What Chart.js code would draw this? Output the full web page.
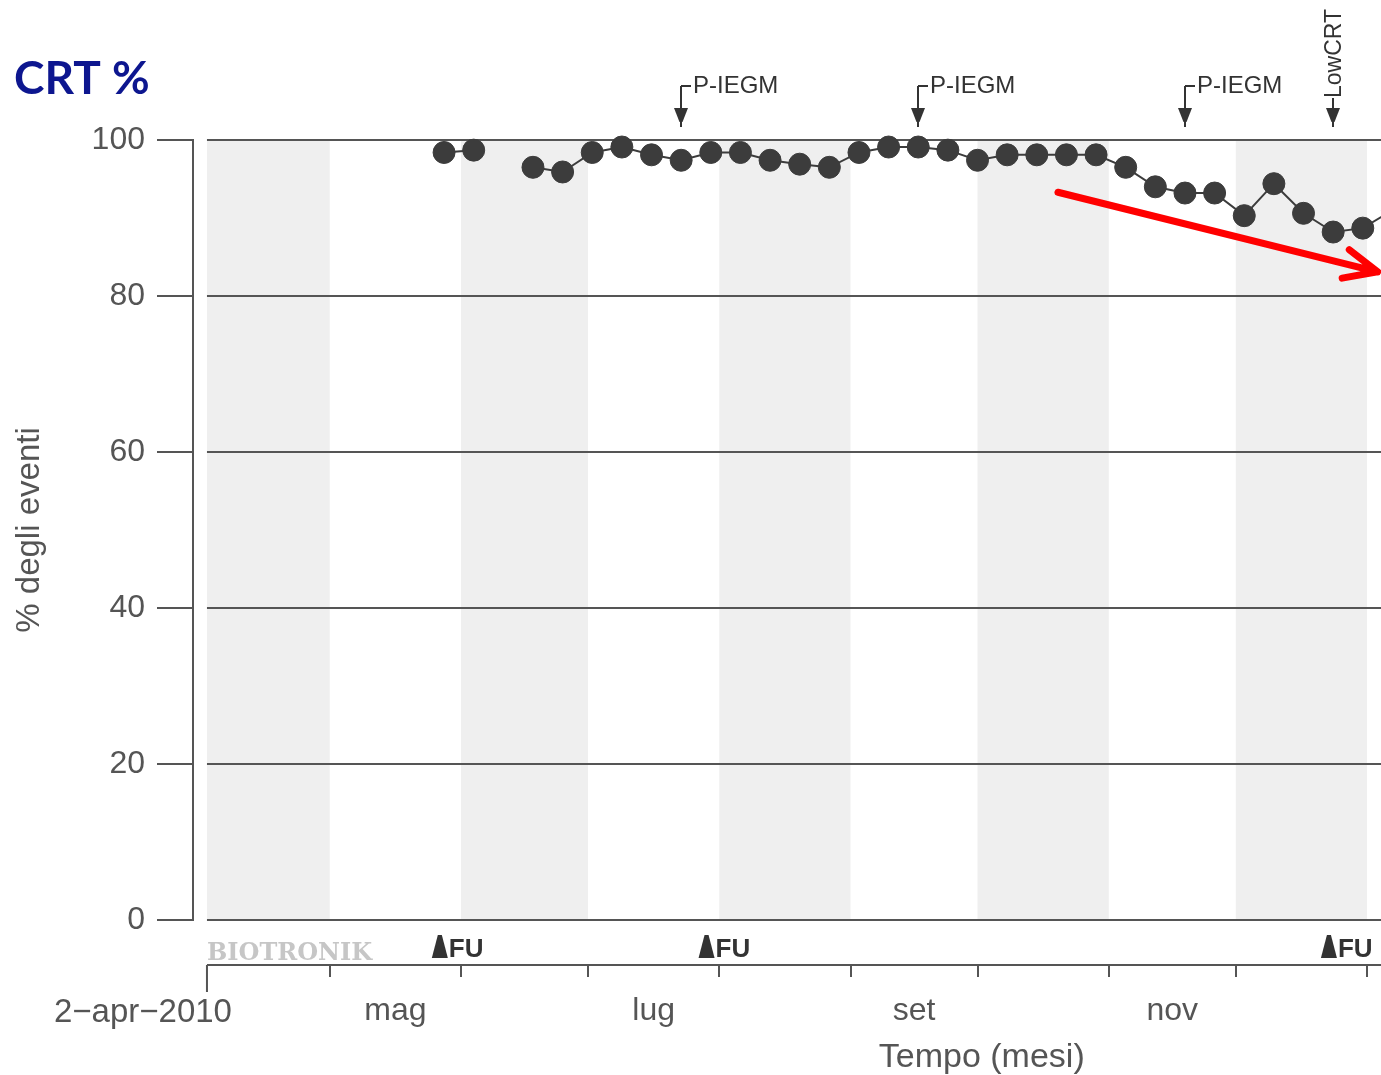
<!DOCTYPE html>
<html>
<head>
<meta charset="utf-8">
<script src="https://cdn.jsdelivr.net/npm/chart.js@4.4.1/dist/chart.umd.min.js"></script>
<style>
html, body { margin: 0; padding: 0; background: #fff; }
canvas { display: block; }
</style>
</head>
<body>
<canvas id="myChart" width="1381" height="1075"></canvas>
<script>
const startDate = '2010-04-02'
const xRange = [-3.3, 277.3]   // days from startDate shown on the x axis

const dates = ['2010-05-28', '2010-06-04', '2010-06-11', '2010-06-18', '2010-06-25', '2010-07-02',
    '2010-07-09', '2010-07-16', '2010-07-23', '2010-07-30', '2010-08-06', '2010-08-13', '2010-08-20',
    '2010-08-27', '2010-09-03', '2010-09-10', '2010-09-17', '2010-09-24', '2010-10-01', '2010-10-08',
    '2010-10-15', '2010-10-22', '2010-10-29', '2010-11-05', '2010-11-12', '2010-11-19', '2010-11-26',
    '2010-12-03', '2010-12-10', '2010-12-17', '2010-12-24', '2010-12-31', '2011-01-07']
const crtValues = [98.4, 98.7, null, 96.5, 95.9, 98.4,
    99.1, 98.1, 97.4, 98.4, 98.4, 97.4, 96.9,
    96.5, 98.4, 99.1, 99.1, 98.7, 97.4, 98.1,
    98.1, 98.1, 98.1, 96.5, 94.0, 93.2, 93.2,
    90.3, 94.4, 90.6, 88.2, 88.7, 91.0]

const yTicks = [0, 20, 40, 60, 80, 100]
const monthStarts = ['2010-05-01', '2010-06-01', '2010-07-01', '2010-08-01', '2010-09-01',
    '2010-10-01', '2010-11-01', '2010-12-01', '2011-01-01']
const monthLabels = ['mag', 'lug', 'set', 'nov']
const labelledMonths = [0, 2, 4, 6]   // index into monthStarts
const grayBands = [['2010-04-02', '2010-05-01'], ['2010-06-01', '2010-07-01'], ['2010-08-01', '2010-09-01'],
    ['2010-10-01', '2010-11-01'], ['2010-12-01', '2011-01-01']]

const iegmDates = ['2010-07-23', '2010-09-17', '2010-11-19']
const lowCrtDates = ['2010-12-24']
const fuDates = ['2010-05-27', '2010-07-29', '2010-12-23']

// red trend arrow drawn over the print-out
const trendDays = [201, 276.5]
const trendValues = [93.3, 83.1]

const dayMs = 86400000
function dayOf(d) {
    return (Date.parse(d) - Date.parse(startDate)) / dayMs
}
const monthTickDays = labelledMonths.map(i => (dayOf(monthStarts[i]) + dayOf(monthStarts[i + 1])) / 2)

const axisColor = '#555'
const labelFont = { family: 'Liberation Sans, Arial, sans-serif', size: 32 }

function downArrow(ctx, xp, yTop, yBottom) {
    ctx.beginPath()
    ctx.moveTo(xp, yTop)
    ctx.lineTo(xp, yBottom)
    ctx.stroke()
    ctx.beginPath()
    ctx.moveTo(xp - 7, yBottom - 19)
    ctx.lineTo(xp + 7, yBottom - 19)
    ctx.lineTo(xp + 1.5, yBottom - 5)
    ctx.lineTo(xp - 1.5, yBottom - 5)
    ctx.closePath()
    ctx.fill()
}

const decor = {
    id: 'decor',
    beforeDatasetsDraw(chart) {
        const { ctx, chartArea: a, scales: { x, y } } = chart
        ctx.save()
        ctx.fillStyle = '#efefef'
        for (const [from, to] of grayBands) {
            const x1 = x.getPixelForValue(dayOf(from))
            const x2 = Math.min(x.getPixelForValue(dayOf(to)), a.right)
            ctx.fillRect(x1, a.top, x2 - x1, a.bottom - a.top)
        }
        ctx.strokeStyle = axisColor
        ctx.lineWidth = 2
        const x0 = x.getPixelForValue(0)
        for (const v of yTicks) {
            const yp = Math.round(y.getPixelForValue(v))
            ctx.beginPath()
            ctx.moveTo(x0, yp)
            ctx.lineTo(a.right, yp)
            ctx.stroke()
        }
        ctx.restore()
    },
    afterDatasetsDraw(chart) {
        const { ctx, scales: { x, y } } = chart
        const x1 = x.getPixelForValue(trendDays[0]), y1 = y.getPixelForValue(trendValues[0])
        const x2 = x.getPixelForValue(trendDays[1]), y2 = y.getPixelForValue(trendValues[1])
        const ang = Math.atan2(y1 - y2, x1 - x2)
        ctx.save()
        ctx.strokeStyle = '#ff0000'
        ctx.lineWidth = 7
        ctx.lineCap = 'round'
        ctx.lineJoin = 'round'
        ctx.beginPath()
        ctx.moveTo(x1, y1)
        ctx.lineTo(x2, y2)
        ctx.moveTo(x2 + 36 * Math.cos(ang + 0.42), y2 + 36 * Math.sin(ang + 0.42))
        ctx.lineTo(x2, y2)
        ctx.lineTo(x2 + 36 * Math.cos(ang - 0.42), y2 + 36 * Math.sin(ang - 0.42))
        ctx.stroke()
        ctx.restore()
    },
    afterDraw(chart) {
        const { ctx, chartArea: a, scales: { x } } = chart
        ctx.save()

        // title
        ctx.fillStyle = '#0d168f'
        ctx.font = 'bold 46px Lato, "Open Sans", sans-serif'
        ctx.textBaseline = 'alphabetic'
        ctx.textAlign = 'left'
        ctx.fillText('CRT %', 14, 94)

        // event markers above the plot
        ctx.strokeStyle = '#333'
        ctx.fillStyle = '#333'
        ctx.lineWidth = 2
        ctx.font = '24px "Liberation Sans", Arial, sans-serif'
        for (const d of iegmDates) {
            const xp = Math.round(x.getPixelForValue(dayOf(d)))
            downArrow(ctx, xp, 86, 127)
            ctx.beginPath()
            ctx.moveTo(xp, 86)
            ctx.lineTo(xp + 10, 86)
            ctx.stroke()
            ctx.fillText('P-IEGM', xp + 12, 93)
        }
        ctx.font = '23px "Liberation Sans", Arial, sans-serif'
        for (const d of lowCrtDates) {
            const xp = Math.round(x.getPixelForValue(dayOf(d)))
            downArrow(ctx, xp, 98, 127)
            ctx.save()
            ctx.translate(xp + 8, 98)
            ctx.rotate(-Math.PI / 2)
            ctx.fillText('LowCRT', 0, 0)
            ctx.restore()
        }

        // lower strip: follow-ups, logo, month axis
        const x0 = x.getPixelForValue(0)
        const stripY = a.bottom + 45
        ctx.fillStyle = '#c6c6c6'
        ctx.font = 'bold 24px "DejaVu Serif", serif'
        ctx.fillText('BIOTRONIK', x0, a.bottom + 40)

        ctx.fillStyle = '#333'
        ctx.font = 'bold 26px "Liberation Sans Narrow", "Liberation Sans", Arial, sans-serif'
        for (const d of fuDates) {
            const xp = x.getPixelForValue(dayOf(d))
            ctx.beginPath()
            ctx.moveTo(xp - 2, a.bottom + 15)
            ctx.lineTo(xp + 2, a.bottom + 15)
            ctx.lineTo(xp + 8, a.bottom + 38)
            ctx.lineTo(xp - 8, a.bottom + 38)
            ctx.closePath()
            ctx.fill()
            ctx.fillText('FU', xp + 9, a.bottom + 37)
        }

        ctx.strokeStyle = axisColor
        ctx.lineWidth = 2
        ctx.beginPath()
        ctx.moveTo(x0, stripY)
        ctx.lineTo(a.right, stripY)
        ctx.moveTo(x0, stripY)
        ctx.lineTo(x0, stripY + 27)
        for (const m of monthStarts) {
            const xp = Math.round(x.getPixelForValue(dayOf(m)))
            ctx.moveTo(xp, stripY)
            ctx.lineTo(xp, stripY + 12)
        }
        ctx.stroke()

        ctx.fillStyle = axisColor
        ctx.font = '33px "Liberation Sans", Arial, sans-serif'
        ctx.textAlign = 'right'
        ctx.fillText('2\u2212apr\u22122010', x0 + 25, a.bottom + 102)
        ctx.textAlign = 'center'
        ctx.font = '34px "Liberation Sans", Arial, sans-serif'
        ctx.fillText('Tempo (mesi)', x.getPixelForValue(monthTickDays[2] + 16), a.bottom + 147)
        ctx.restore()
    }
}

const ctx = document.getElementById('myChart').getContext('2d')
window.myChart = new Chart(ctx, {
    type: 'line',
    data: {
        datasets: [{
            data: dates.map((d, i) => ({ x: dayOf(d), y: crtValues[i] })),
            borderColor: '#3c3c3c',
            borderWidth: 2,
            backgroundColor: '#3c3c3c',
            pointBackgroundColor: '#3c3c3c',
            pointBorderColor: '#3c3c3c',
            pointBorderWidth: 1,
            pointRadius: 11,
            pointHoverRadius: 11,
            spanGaps: false,
            tension: 0,
            clip: { left: 0, top: 15, right: 0, bottom: 0 }
        }]
    },
    options: {
        responsive: false,
        devicePixelRatio: 1,
        animation: false,
        events: [],
        layout: { autoPadding: false, padding: { top: 140, left: 0, right: 0, bottom: 0 } },
        plugins: {
            legend: { display: false },
            tooltip: { enabled: false }
        },
        scales: {
            x: {
                type: 'linear',
                min: xRange[0],
                max: xRange[1],
                grid: { display: false, drawTicks: false },
                border: { display: false },
                ticks: {
                    padding: 72,
                    font: labelFont,
                    color: axisColor,
                    autoSkip: false,
                    maxRotation: 0,
                    callback: (v, i) => monthLabels[i]
                },
                afterBuildTicks: (s) => { s.ticks = monthTickDays.map(v => ({ value: v })) },
                afterFit: (s) => { s.height = 155 }
            },
            y: {
                min: 0,
                max: 100,
                ticks: { stepSize: 20, padding: 12, font: labelFont, color: axisColor },
                grid: { drawOnChartArea: false, drawTicks: true, tickLength: 36, color: axisColor, lineWidth: 2 },
                border: { display: true, color: axisColor, width: 2 },
                title: {
                    display: true,
                    text: '% degli eventi',
                    color: axisColor,
                    font: { family: 'Liberation Sans, Arial, sans-serif', size: 33 },
                    padding: { top: 10, bottom: 0 }
                },
                afterFit: (s) => { s.width = 193 }
            }
        }
    },
    plugins: [decor]
})
</script>
</body>
</html>
